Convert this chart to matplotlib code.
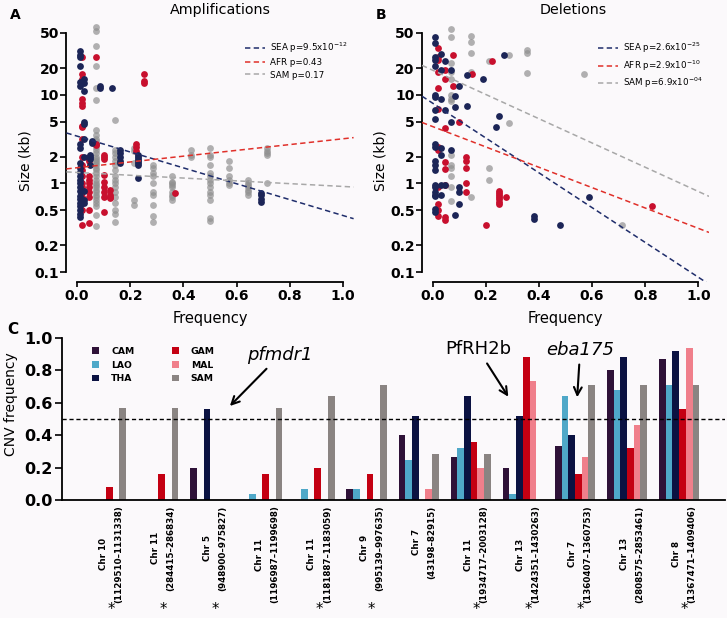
import numpy as np
import matplotlib
matplotlib.use("Agg")
import matplotlib.pyplot as plt
import matplotlib.transforms as mtransforms
from matplotlib.ticker import NullLocator

# ---- panel A: amplifications, (frequency, [sizes in kb]) per column
amp_sea = [(0.01, [31, 28, 27, 21, 14, 12.5, 2.8, 2.5, 1.7, 1.5, 1.35, 1.2, 1.1, 1.0,
                   0.9, 0.82, 0.72, 0.66, 0.6, 0.55, 0.5, 0.45, 0.42]),
           (0.025, [15, 13.5, 11, 5.0, 4.7, 3.2, 2.0, 0.82, 0.65, 0.6]),
           (0.05, [2.1, 2.0, 1.9, 1.6]),
           (0.057, [3.0, 2.85]),
           (0.086, [12.6, 12.0]),
           (0.13, [11.9]),
           (0.16, [2.4, 2.2, 2.0, 1.8, 1.7]),
           (0.23, [2.1, 2.0, 1.9, 1.8, 1.7, 1.6, 1.15]),
           (0.69, [0.78, 0.74, 0.66, 0.62])]
amp_afr = [(0.02, [27, 17, 15, 9, 8, 7.5, 4.5, 4.3, 3.2, 2.0, 1.6, 1.4, 1.2, 1.0, 0.9,
                   0.8, 0.7, 0.62, 0.6, 0.5, 0.34]),
           (0.045, [2.0, 1.9, 1.8, 1.2, 1.1, 1.0, 0.9, 0.8, 0.7, 0.5, 0.36]),
           (0.07, [27, 2.8, 2.7]),
           (0.10, [2.1, 2.0, 1.9, 1.25, 1.05, 0.9, 0.8, 0.7, 0.47]),
           (0.125, [0.85, 0.75, 0.7, 0.68]),
           (0.22, [2.8, 2.6, 2.3]),
           (0.25, [17, 14.5, 13.5]),
           (0.37, [0.78])]
amp_sam = [(0.071, [58, 52, 36, 21, 12, 8.8, 4.0, 3.5, 3.2, 3.0, 2.8, 2.6, 2.4, 2.2, 2.0,
                    1.9, 1.8, 1.7, 1.6, 1.5, 1.4, 1.3, 1.2, 1.1, 1.0, 0.95, 0.9, 0.85,
                    0.8, 0.75, 0.7, 0.65, 0.6, 0.55, 0.44, 0.33]),
           (0.143, [5.2, 2.4, 2.2, 2.0, 1.8, 1.6, 1.4, 1.2, 1.1, 1.0, 0.9, 0.8, 0.7,
                    0.6, 0.5, 0.45, 0.37]),
           (0.214, [2.5, 2.3, 1.7, 0.65, 0.57]),
           (0.286, [1.6, 1.5, 1.3, 1.2, 1.0, 0.8, 0.75, 0.57, 0.43, 0.37]),
           (0.357, [1.2, 1.05, 1.0, 0.95, 0.9, 0.8, 0.75, 0.7, 0.65]),
           (0.429, [2.4, 2.1, 2.0]),
           (0.5, [2.5, 2.1, 2.0, 1.6, 1.3, 1.2, 1.1, 1.0, 0.9, 0.8, 0.75, 0.65, 0.41, 0.38]),
           (0.571, [1.8, 1.5, 1.2, 1.1, 1.0, 0.95]),
           (0.643, [1.1, 1.0, 0.95, 0.9, 0.85, 0.8, 0.75]),
           (0.714, [2.5, 2.3, 2.2, 2.1, 1.0])]

# ---- panel B: deletions
del_sea = [(0.01, [45, 38, 27, 25, 21, 10, 9.5, 6.8, 5.3, 2.8, 2.6, 1.8, 1.6, 1.4, 0.95,
                   0.9, 0.8, 0.75, 0.72, 0.52, 0.48]),
           (0.03, [29, 19, 9.0, 2.5, 2.1, 0.95, 0.75]),
           (0.045, [24, 6.8, 0.97]),
           (0.07, [19, 4.9, 2.4]),
           (0.085, [9.8, 7.3, 0.44]),
           (0.10, [12.5, 0.9, 0.8, 0.58]),
           (0.13, [16.8, 7.5]),
           (0.19, [15]),
           (0.24, [4.3]),
           (0.25, [5.8]),
           (0.27, [28]),
           (0.38, [0.43, 0.40]),
           (0.48, [0.34]),
           (0.59, [0.70])]
del_afr = [(0.02, [34, 27, 25, 18, 12, 7.0, 2.6, 2.4, 0.9, 0.58, 0.5, 0.43]),
           (0.045, [19, 15, 4.2, 1.75, 1.45, 0.95, 0.42, 0.39]),
           (0.075, [28, 12.5]),
           (0.10, [4.9]),
           (0.125, [2.0, 1.8, 1.5, 1.0, 0.8]),
           (0.15, [17]),
           (0.20, [0.34]),
           (0.225, [24]),
           (0.25, [0.82, 0.78, 0.74, 0.70, 0.66, 0.62, 0.58]),
           (0.275, [0.70]),
           (0.825, [0.55])]
del_sam = [(0.071, [56, 45, 23, 18, 15, 10, 9.0, 8.5, 2.1, 1.6, 1.5, 1.2, 0.92, 0.64]),
           (0.143, [46, 39, 30, 18, 0.7]),
           (0.214, [24, 1.5, 1.1]),
           (0.286, [28, 4.8]),
           (0.357, [32, 30, 17.5]),
           (0.571, [17]),
           (0.714, [0.34])]

# regression lines: log10(size) = a + b * freq
amp_fit = {"SEA": (0.534, -0.896), "AFR": (0.177, 0.327), "SAM": (0.124, -0.158)}
del_fit = {"SEA": (0.906, -1.965), "AFR": (0.642, -1.149), "SAM": (1.278, -1.369)}
amp_leg = [r"SEA p=9.5x10$^{-12}$", "AFR p=0.43", "SAM p=0.17"]
del_leg = [r"SEA p=2.6x10$^{-25}$", r"AFR p=2.9x10$^{-10}$", r"SAM p=6.9x10$^{-04}$"]

size_ticks = [0.1, 0.2, 0.5, 1, 2, 5, 10, 20, 50]
size_ticklabels = ["0.1", "0.2", "0.5", "1", "2", "5", "10", "20", "50"]
freq_ticks = [0.0, 0.2, 0.4, 0.6, 0.8, 1.0]

# ---- panel C: CNV frequency per region
regions = ["Chr 10\n(1129510\u20131131338)", "Chr 11\n(284415\u2013286834)",
           "Chr 5\n(948900\u2013975827)", "Chr 11\n(1196987\u20131199698)",
           "Chr 11\n(1181887\u20131183059)", "Chr 9\n(995139\u2013997635)",
           "Chr 7\n(43198\u201382915)", "Chr 11\n(1934717\u20132003128)",
           "Chr 13\n(1424351\u20131430263)", "Chr 7\n(1360407\u20131360753)",
           "Chr 13\n(2808575\u20132853461)", "Chr 8\n(1367471\u20131409406)"]
starred = [1, 1, 1, 0, 1, 1, 0, 1, 1, 1, 0, 1]
cam = [0, 0, 0.20, 0, 0, 0.065, 0.40, 0.265, 0.20, 0.333, 0.80, 0.868]
lao = [0, 0, 0, 0.035, 0.068, 0.07, 0.247, 0.32, 0.035, 0.64, 0.68, 0.71]
tha = [0, 0, 0.56, 0, 0, 0, 0.52, 0.64, 0.52, 0.40, 0.885, 0.92]
gam = [0.08, 0.16, 0, 0.16, 0.20, 0.16, 0, 0.36, 0.885, 0.16, 0.32, 0.56]
mal = [0, 0, 0, 0, 0, 0, 0.065, 0.20, 0.737, 0.265, 0.463, 0.936]
sam = [0.57, 0.57, 0, 0.57, 0.64, 0.71, 0.285, 0.285, 0, 0.71, 0.71, 0.71]
pops = ["CAM", "LAO", "THA", "GAM", "MAL", "SAM"]
pop_colors = ["#2f1238", "#4fa8c8", "#0b1242", "#c40012", "#f07f8b", "#8a8482"]

bg = "#fbf9fb"
c_sea, c_afr, c_sam = "#1c2557", "#c8102e", "#909090"
l_sea, l_afr, l_sam = "#1f2d6b", "#e0302a", "#a8a8a8"

W, H = 727, 618
fig = plt.figure(figsize=(W / 100, H / 100), dpi=100, facecolor=bg)


def flatten(cols):
    xs, ys = [], []
    for f, sizes in cols:
        xs += [f] * len(sizes)
        ys += sizes
    return xs, ys


def scatter_panel(ax, sea, afr, samp, fit, leg, leg_x):
    for cols, col, al in [(samp, c_sam, 0.7), (afr, c_afr, 1.0), (sea, c_sea, 1.0)]:
        x, y = flatten(cols)
        ax.scatter(x, y, s=24, color=col, alpha=al, lw=0, zorder=2)
    xl = np.linspace(-0.04, 1.04, 60)
    for (name, (a, b)), col, lab in zip(fit.items(), [l_sea, l_afr, l_sam], leg):
        ax.plot(xl, 10 ** (a + b * xl), color=col, lw=1.1, dashes=(3.5, 2.2), label=lab, zorder=3)
    ax.set_yscale("log")
    ax.set_xlim(-0.04, 1.04)
    ax.set_ylim(0.078, 64)
    ax.set_yticks(size_ticks)
    ax.set_yticklabels(size_ticklabels, fontweight="bold")
    ax.yaxis.set_minor_locator(NullLocator())
    ax.set_xticks(freq_ticks)
    ax.set_xticklabels(["%.1f" % v for v in freq_ticks], fontweight="bold")
    ax.spines[["top", "right"]].set_visible(False)
    ax.spines["left"].set_bounds(0.1, 50)
    ax.spines["bottom"].set_bounds(0, 1)
    for s in ["left", "bottom"]:
        ax.spines[s].set_linewidth(1.3)
    ax.tick_params(axis="y", length=4.3, width=1.2, labelsize=10, pad=1)
    ax.tick_params(axis="x", length=3.6, width=1.2, labelsize=10, pad=2)
    ax.set_facecolor("none")
    ax.text(0.5, (281.6 - 318) / 258.2, "Frequency", transform=ax.transAxes,
            ha="center", va="center", fontsize=10.5)
    ax.text(-0.144, 0.467, "Size (kb)", transform=ax.transAxes, rotation=90,
            ha="center", va="center", fontsize=10)
    ax.legend(loc="upper left", bbox_to_anchor=(leg_x / W, 1 - 41 / H),
              bbox_transform=fig.transFigure, frameon=False, fontsize=6.3,
              handlelength=2.3, handletextpad=0.6, labelspacing=0.35,
              borderpad=0, borderaxespad=0)


axA = fig.add_axes([66.4 / W, 1 - 281.6 / H, 287.2 / W, 258.2 / H])
axB = fig.add_axes([422 / W, 1 - 281.6 / H, 287 / W, 258.2 / H])
scatter_panel(axA, amp_sea, amp_afr, amp_sam, amp_fit, amp_leg, 245)
scatter_panel(axB, del_sea, del_afr, del_sam, del_fit, del_leg, 598)

fig.text(220 / W, 1 - 10 / H, "Amplifications", ha="center", va="center", fontsize=10.3)
fig.text(573 / W, 1 - 10 / H, "Deletions", ha="center", va="center", fontsize=10.3)
fig.text(15 / W, 1 - 15 / H, "A", ha="center", va="center", fontsize=10, fontweight="bold")
fig.text(381 / W, 1 - 15 / H, "B", ha="center", va="center", fontsize=10, fontweight="bold")

# ---- panel C
axC = fig.add_axes([62 / W, 1 - 500 / H, 663 / W, 162 / H])
axC.set_facecolor("none")
bw = 0.1286
idx = np.arange(len(regions))
for k, (vals, col, lab) in enumerate(zip([cam, lao, tha, gam, mal, sam], pop_colors, pops)):
    axC.bar(idx + (k - 2.5) * bw, vals, width=bw, color=col, lw=0, label=lab)
axC.axhline(0.5, color="black", lw=1.0, dashes=(3, 2))
axC.set_xlim(-0.845, 11.88)
axC.set_ylim(0, 1.0)
axC.set_yticks([0, 0.2, 0.4, 0.6, 0.8, 1.0])
axC.set_yticklabels(["0.0", "0.2", "0.4", "0.6", "0.8", "1.0"], fontweight="bold")
axC.set_xticks(idx + 0.1)
axC.set_xticklabels(regions, rotation=90, fontsize=6.3, fontweight="bold", linespacing=1.9)
axC.tick_params(axis="x", length=0, pad=4)
axC.tick_params(axis="y", length=5, width=1.2, labelsize=11.5, pad=1.5)
axC.spines[["top", "right"]].set_visible(False)
axC.spines["left"].set_bounds(0, 1)
for s in ["left", "bottom"]:
    axC.spines[s].set_linewidth(1.3)
axC.legend(ncol=2, loc="upper left", bbox_to_anchor=(92 / W, 1 - 347 / H),
           bbox_transform=fig.transFigure, frameon=False,
           prop={"size": 6.7, "weight": "bold"}, handlelength=0.75, handleheight=0.75,
           handletextpad=1.3, columnspacing=4.0, labelspacing=0.5,
           borderpad=0, borderaxespad=0)

trans = mtransforms.blended_transform_factory(axC.transData, axC.transAxes)
for i, s in enumerate(starred):
    if s:
        axC.text(i + 0.1, (500 - 617) / 162, "*", transform=trans, ha="center",
                 va="bottom", fontsize=10.5)

arrow = dict(arrowstyle="->", lw=1.5, color="black", mutation_scale=14)
axC.annotate("pfmdr1", xy=(2.34, 0.568), xytext=(3.34, 0.895), ha="center", va="center",
             fontsize=13, style="italic", arrowprops=arrow, annotation_clip=False)
axC.annotate("PfRH2b", xy=(7.75, 0.623), xytext=(7.14, 0.93), ha="center", va="center",
             fontsize=13, arrowprops=arrow, annotation_clip=False)
axC.annotate("eba175", xy=(9.04, 0.617), xytext=(9.10, 0.926), ha="center", va="center",
             fontsize=13, style="italic", arrowprops=arrow, annotation_clip=False)

fig.text(13 / W, 1 - 330 / H, "C", ha="center", va="center", fontsize=11, fontweight="bold")
fig.text(11 / W, 1 - 404 / H, "CNV frequency", rotation=90, ha="center", va="center", fontsize=10)

fig.savefig("out.png", dpi=100, facecolor=bg)
